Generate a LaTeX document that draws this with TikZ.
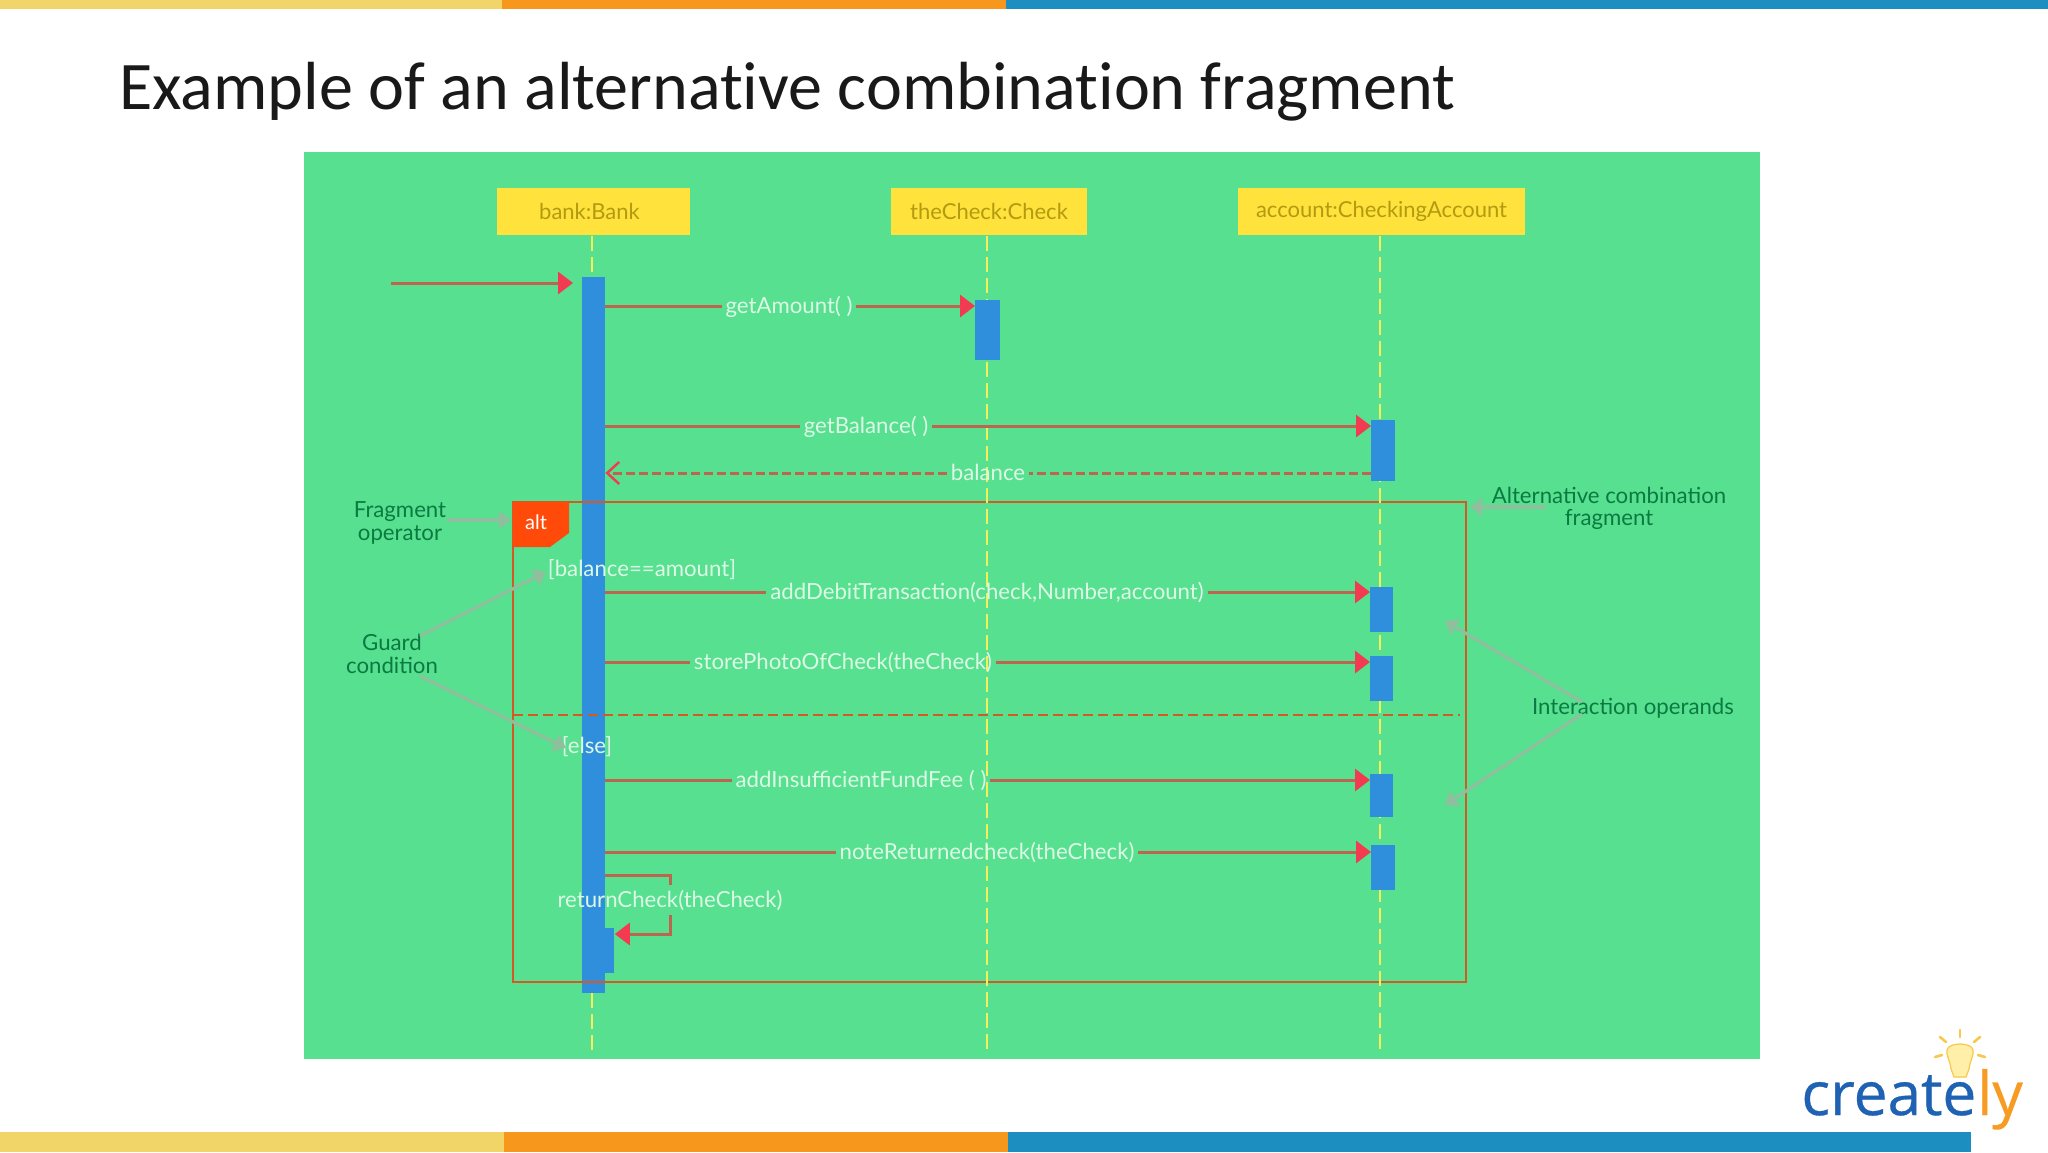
\documentclass[tikz,border=0pt]{standalone}
\usepackage{fontspec}
\usetikzlibrary{arrows.meta,calc}
\setmainfont{Lato}
\newfontfamily\titlefont[Ligatures=NoCommon]{Carlito}
\newfontfamily\logofont[FakeBold=0.5]{Open Sans}
\definecolor{panelgreen}{HTML}{56E08F}
\definecolor{boxyellow}{HTML}{FFE23C}
\definecolor{lifeyellow}{HTML}{F4F05A}
\definecolor{actblue}{HTML}{2F8FDD}
\definecolor{msgline}{HTML}{BC6650}
\definecolor{headred}{HTML}{F23A50}
\definecolor{framecol}{HTML}{D25A26}
\definecolor{altfill}{HTML}{FF4A0A}
\definecolor{annot}{HTML}{0B7A42}
\definecolor{annotline}{HTML}{8FBF9C}
\definecolor{labelwhite}{HTML}{DDF9E6}
\definecolor{boxtext}{HTML}{B39A10}
\definecolor{bary}{HTML}{F2D568}
\definecolor{baro}{HTML}{F7981D}
\definecolor{barb}{HTML}{1C8EBF}
\definecolor{logoblue}{HTML}{1F62B4}
\definecolor{logoorange}{HTML}{F79B23}
\definecolor{bulb}{HTML}{FFEFA8}
\definecolor{bulbray}{HTML}{F8C84A}
\tikzset{
  x=0.5pt,y=-0.5pt,
  objbox/.style={fill=boxyellow,draw=none,minimum width=#1*0.5pt,minimum height=23.5pt,inner sep=0pt,text=boxtext,font=\fontsize{11}{12}\selectfont},
  act/.style={fill=actblue,draw=none},
  lifeline/.style={draw=lifeyellow,line width=1.1pt,dash pattern=on 7.5pt off 3pt},
  msg/.style={draw=msgline,line width=1.5pt},
  msgarrow/.style={msg,-{Triangle[length=7.5pt,width=11pt,fill=headred,color=headred]}},
  retarrow/.style={msg,dash pattern=on 4.5pt off 2pt,-{Straight Barb[length=6pt,width=11pt,color=headred,line width=1.2pt]}},
  mlabel/.style={text=labelwhite,font=\fontsize{11.1}{12}\selectfont,inner sep=2pt,outer sep=0pt,text height=9pt,text depth=2pt},
  annotext/.style={text=annot,align=center,font=\fontsize{11.1}{11.3}\selectfont,inner sep=0pt},
  annoline/.style={draw=annotline,line width=1.6pt},
  annoarrow/.style={annoline,-{Triangle[length=6pt,width=9pt,fill=annotline,color=annotline]}},
  frameline/.style={draw=framecol,line width=1.3pt},
  ray/.style={draw=bulbray,line width=1.3pt,line cap=round},
}
\begin{document}
\begin{tikzpicture}
\useasboundingbox (0,0) rectangle (2048,1152);
\fill[white] (0,0) rectangle (2048,1152);
% decorative bars
\fill[bary] (0,0) rectangle (502,9);
\fill[baro] (502,0) rectangle (1006,9);
\fill[barb] (1006,0) rectangle (2048,9);
\fill[bary] (0,1132) rectangle (504,1152);
\fill[baro] (504,1132) rectangle (1008,1152);
\fill[barb] (1008,1132) rectangle (1971,1152);
% title
\node[anchor=base west,inner sep=0pt,font=\titlefont\fontsize{34.05}{36}\selectfont,text=black!90] (title) at (119,109) {Example of an alternative combination fragment};
% panel
\fill[panelgreen] (304,152) rectangle (1760,1059);
% objects
\node[objbox=193] (bank) at (593.5,211) {bank:Bank\hspace*{4pt}};
\node[objbox=196] (check) at (989,211) {theCheck:Check};
\node[objbox=287] (account) at (1381.5,211) {account:CheckingAccount};
% lifeline ends
\coordinate (bankTop) at (592,236);
\coordinate (bankEnd) at (592,1052);
\coordinate (checkTop) at (987,236);
\coordinate (checkEnd) at (987,1052);
\coordinate (accTop) at (1380,236);
\coordinate (accEnd) at (1380,1052);
% bank activation
\node[act,minimum width=11.5pt,minimum height=358pt,inner sep=0pt] (bankact) at (593.5,635) {};
\node[act,minimum width=4.5pt,minimum height=22.5pt,inner sep=0pt,anchor=north west] (selfact) at (605,928) {};
% frame
\draw[frameline] (513,502) rectangle (1466,982);
\coordinate (divL) at (513,715);
\coordinate (divR) at (1460,715);
\draw[frameline,line width=1.1pt,dash pattern=on 5pt off 2.5pt] (divL) -- (divR);
\fill[altfill] (513,502) -- (569,502) -- (569,533) -- (550,547) -- (513,547) -- cycle;
\node[text=white,font=\fontsize{10}{12}\selectfont,inner sep=0pt] (alt) at (536,522) {alt};
% lifelines
\draw[lifeline] (bankTop) -- (bankTop |- bankact.north);
\draw[lifeline] (bankTop |- bankact.south) -- (bankEnd);
\draw[lifeline] (checkTop) -- (checkEnd);
\draw[lifeline] (accTop) -- (accEnd);
% other activations
\node[act,minimum width=12.5pt,minimum height=30pt,inner sep=0pt,anchor=north west] (checkact) at (975,300) {};
\node[act,minimum width=12pt,minimum height=30.5pt,inner sep=0pt,anchor=north west] (acc1) at (1371,420) {};
\node[act,minimum width=11.5pt,minimum height=22.5pt,inner sep=0pt,anchor=north west] (acc2) at (1370,587) {};
\node[act,minimum width=11.5pt,minimum height=22.5pt,inner sep=0pt,anchor=north west] (acc3) at (1370,656) {};
\node[act,minimum width=11.5pt,minimum height=21.5pt,inner sep=0pt,anchor=north west] (acc4) at (1370,774) {};
\node[act,minimum width=12pt,minimum height=22.5pt,inner sep=0pt,anchor=north west] (acc5) at (1371,845) {};
% incoming
\coordinate (inStart) at (391,283);
\draw[msgarrow] (inStart) -- (573,283);
% messages
\node[mlabel] (m1) at (789,306) {getAmount( )};
\draw[msg] (bankact.east |- m1) -- (m1);
\draw[msgarrow] (m1) -- (checkact.west |- m1);
\node[mlabel] (m2) at (866,426) {getBalance( )};
\draw[msg] (bankact.east |- m2) -- (m2);
\draw[msgarrow] (m2) -- (acc1.west |- m2);
\node[mlabel] (m3) at (988,473) {balance};
\draw[msg,dash pattern=on 4.5pt off 2pt] (acc1.west |- m3) -- (m3);
\draw[retarrow] (m3) -- (bankact.east |- m3);
\node[mlabel] (m4) at (987,592) {addDebitTransaction(check,Number,account)};
\draw[msg] (bankact.east |- m4) -- (m4);
\draw[msgarrow] (m4) -- (acc2.west |- m4);
\node[mlabel] (m5) at (843,662) {storePhotoOfCheck(theCheck)};
\draw[msg] (bankact.east |- m5) -- (m5);
\draw[msgarrow] (m5) -- (acc3.west |- m5);
\node[mlabel] (m6) at (861,780) {addInsufficientFundFee ( )};
\draw[msg] (bankact.east |- m6) -- (m6);
\draw[msgarrow] (m6) -- (acc4.west |- m6);
\node[mlabel] (m7) at (987,852) {noteReturnedcheck(theCheck)};
\draw[msg] (bankact.east |- m7) -- (m7);
\draw[msgarrow] (m7) -- (acc5.west |- m7);
% self message
\node[mlabel] (m8) at (670,900) {returnCheck(theCheck)};
\coordinate (selfA) at (m8 |- 0,875);
\coordinate (selfB) at (m8 |- 0,934);
\draw[msg] (bankact.east |- selfA) -- (selfA) -- (m8);
\draw[msgarrow] (m8) -- (selfB) -- (selfact.east |- selfB);
% guards
\node[mlabel] (g1) at (642,569) {[balance==amount]};
\node[mlabel] (g2) at (587,746) {[else]};
% annotations
\node[annotext] (fragop) at (400,523) {Fragment\\operator};
\coordinate (fragTip) at (511,520);
\draw[annoarrow] (fragop.east |- fragTip) -- (fragTip);
\node[annotext] (guard) at (392,654) {Guard\\condition};
\coordinate (guardA) at (420,636);
\coordinate (guardB) at (420,676);
\coordinate (guardTipA) at (546,572);
\coordinate (guardTipB) at (566,748);
\draw[annoarrow] (guardA) -- (guardTipA);
\draw[annoarrow] (guardB) -- (guardTipB);
\node[annotext] (altfrag) at (1609,508.5) {Alternative combination\\fragment};
\coordinate (altStart) at (1546,507);
\coordinate (altTip) at (1470,507);
\draw[annoarrow] (altStart) -- (altTip);
\node[annotext] (operands) at (1633,708) {Interaction operands};
\coordinate (opA) at (1582,702);
\coordinate (opB) at (1582,714);
\coordinate (opTipA) at (1445,621);
\coordinate (opTipB) at (1445,805);
\draw[annoarrow] (opA) -- (opTipA);
\draw[annoarrow] (opB) -- (opTipB);
% logo
\fill[bulb,draw=bulbray,line width=0.6pt] (1951,1069) .. controls (1950,1060) and (1946,1056) .. (1947,1050) .. controls (1948,1042) and (1972,1042) .. (1973,1050) .. controls (1974,1056) and (1970,1060) .. (1969,1069) -- (1966,1077) -- (1954,1077) -- cycle;
\draw[ray] (1960,1030) -- (1960,1037);
\draw[ray] (1940,1037) -- (1946,1042);
\draw[ray] (1980,1037) -- (1974,1042);
\draw[ray] (1935,1057) -- (1942,1055);
\draw[ray] (1985,1057) -- (1978,1055);
\node[anchor=base west,inner sep=0pt,text=logoblue,font=\logofont\fontsize{30.2}{34}\selectfont] (logoA) at (1801,1115) {create};
\node[anchor=base west,inner sep=0pt,text=logoorange,font=\logofont\fontsize{30.2}{34}\selectfont] (logoB) at (logoA.base east) {ly};
\end{tikzpicture}
\end{document}
